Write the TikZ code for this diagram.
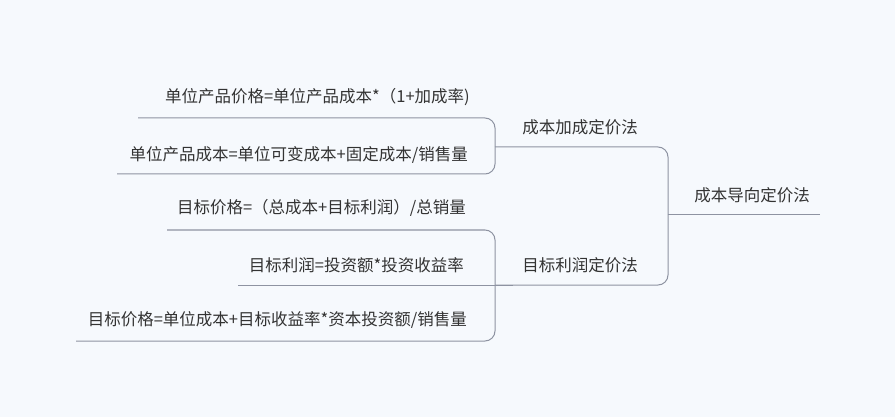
\documentclass[tikz,border=0pt]{standalone}
\usepackage{fontspec}
\setmainfont{Noto Sans CJK SC}
\definecolor{bg}{HTML}{F6F9FD}
\definecolor{ln}{HTML}{8E93A2}
\definecolor{tx}{HTML}{333333}
\begin{document}
\begin{tikzpicture}[x=1pt,y=-1pt,
  lbl/.style={text=tx,font=\fontsize{16.5}{18}\selectfont,inner sep=0pt},
  leaf/.style={lbl,anchor=east},
  link/.style={draw=ln,line width=1pt,rounded corners=10pt}]
\fill[bg] (0,0) rectangle (895,417);
\useasboundingbox (0,0) rectangle (895,417);
\node[lbl] (root) at (752,195) {成本导向定价法};
\node[lbl] (b1) at (580,127) {成本加成定价法};
\node[lbl] (b2) at (580,265) {目标利润定价法};
\node[leaf] (l1) at (470,97) {单位产品价格=单位产品成本*（1+加成率)};
\node[leaf] (l2) at (468,155) {单位产品成本=单位可变成本+固定成本/销售量};
\node[leaf] (l3) at (466,208) {目标价格=（总成本+目标利润）/总销量};
\node[leaf] (l4) at (464,265) {目标利润=投资额*投资收益率};
\node[leaf] (l5) at (467,320) {目标价格=单位成本+目标收益率*资本投资额/销售量};
\coordinate (rA) at (820,215); \coordinate (rJ) at (668,215);
\draw[link] (rA) -- (rJ);
\draw[link] (rJ) -- (668,147) -- (495,147);
\draw[link] (rJ) -- (668,285) -- (495,285);
\draw[link] (495,147) -- (495,118) -- (138,118);
\draw[link] (495,147) -- (495,174) -- (117,174);
\draw[link] (495,285) -- (495,230) -- (167,230);
\draw[link] (513,285) -- (238,285);
\draw[link] (495,285) -- (495,341) -- (76,341);
\end{tikzpicture}
\end{document}
